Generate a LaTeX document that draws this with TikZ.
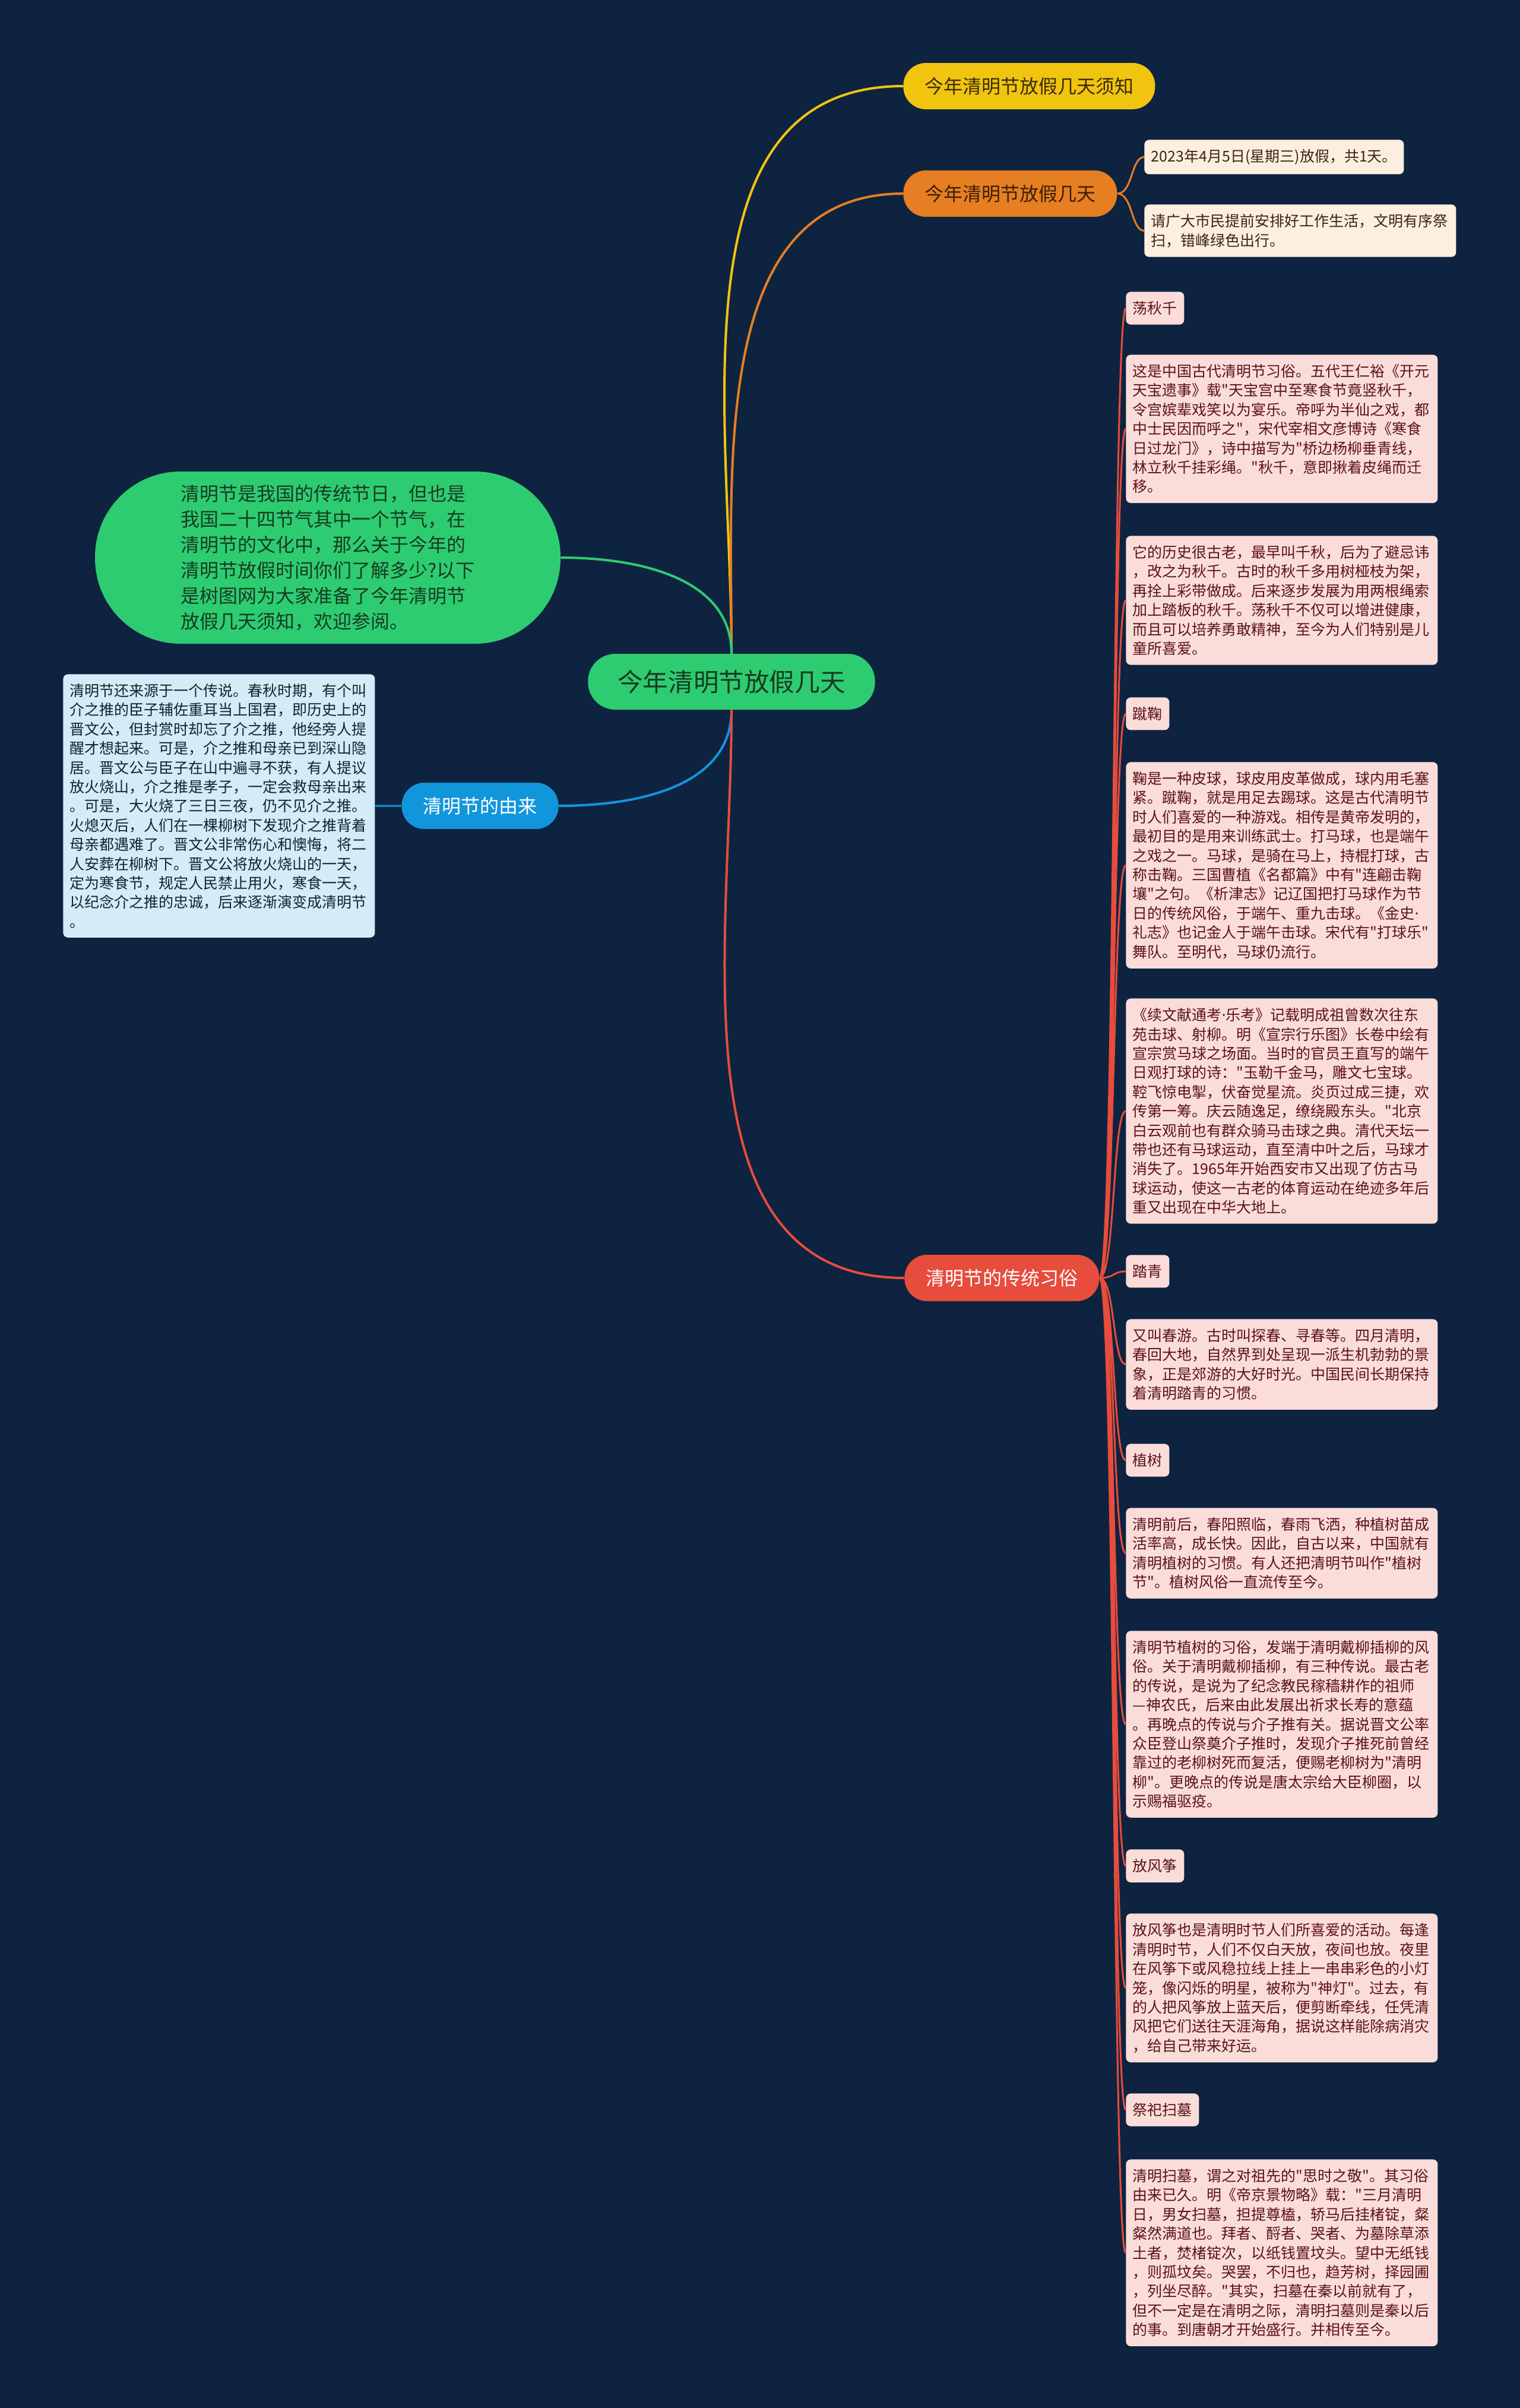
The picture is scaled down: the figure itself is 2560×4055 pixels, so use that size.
\documentclass[tikz,border=0pt]{standalone}
\usepackage{fontspec}
\newfontfamily\hanzi{Noto Sans CJK SC}
\newfontfamily\latinfont{Noto Sans}
\newcommand{\kdot}{{\latinfont ·}}
\usetikzlibrary{positioning}
\definecolor{bgnavy}{HTML}{0E2340}
\definecolor{rootgreen}{HTML}{2ECC71}
\definecolor{rootink}{HTML}{163B22}
\definecolor{sunyellow}{HTML}{F1C40F}
\definecolor{sunink}{HTML}{3A2C05}
\definecolor{amber}{HTML}{E67E22}
\definecolor{amberink}{HTML}{3D1F05}
\definecolor{cream}{HTML}{FDEFDF}
\definecolor{creamink}{HTML}{3D2412}
\definecolor{skyblue}{HTML}{1296DB}
\definecolor{icefill}{HTML}{D3ECF8}
\definecolor{iceink}{HTML}{142233}
\definecolor{brick}{HTML}{E74C3C}
\definecolor{blush}{HTML}{FADCD9}
\definecolor{blushink}{HTML}{5B1414}
\tikzset{x=0.5pt, y=0.5pt,
	root/.style={
		fill=rootgreen, text=rootink,
		rounded corners=23pt, minimum height=47pt, inner xsep=25pt,
		font=\hanzi\fontsize{21.3}{25}\selectfont
	},
	topic/.style={
		rounded corners=19pt, minimum height=39pt, inner xsep=18pt, inner ysep=0pt,
		font=\hanzi\fontsize{16}{19}\selectfont
	},
	word/.style={
		rounded corners=4pt, inner xsep=5.75pt, inner ysep=8pt,
		anchor=north west, align=left,
		font=\hanzi\fontsize{12.5}{16.2}\selectfont
	},
	para/.style={word, text width=251pt},
	custom/.style={word, fill=blush, text=blushink},
	wire/.style={line width=2pt},
	twig/.style={line width=1.5pt},
	kid/.style={out=0, in=180, out distance=13pt, in distance=11pt}
}

\begin{document}
\begin{tikzpicture}
	\fill[bgnavy] (0,0) rectangle (2560,-4055);

	\node[root] (c) at (1232,-1148) {今年清明节放假几天};

	\node[topic, fill=sunyellow, text=sunink, anchor=west] (tips) at (1521,-145) {今年清明节放假几天须知};
	\node[topic, fill=amber, text=amberink, anchor=west] (days) at (1521,-326) {今年清明节放假几天};
	\node[word, fill=cream, text=creamink] (date) at (1927,-235) {2023年4月5日(星期三)放假，共1天。};
	\node[word, fill=cream, text=creamink, text width=251pt] (advice) at (1927,-344) {
		请广大市民提前安排好工作生活，文明有序祭\\
		扫，错峰绿色出行。};

	\node[fill=rootgreen, text=rootink, rounded corners=72pt, minimum width=392pt,
		minimum height=145pt, align=left, font=\hanzi\fontsize{16}{21.5}\selectfont] (intro) at (552,-939) {
		清明节是我国的传统节日，但也是\\
		我国二十四节气其中一个节气，在\\
		清明节的文化中，那么关于今年的\\
		清明节放假时间你们了解多少?以下\\
		是树图网为大家准备了今年清明节\\
		放假几天须知，欢迎参阅。};

	\node[topic, fill=skyblue, text=white, anchor=east] (origin) at (941,-1357) {清明节的由来};
	\node[para, fill=icefill, text=iceink] (legend) at (106,-1135) {
		清明节还来源于一个传说。春秋时期，有个叫\\
		介之推的臣子辅佐重耳当上国君，即历史上的\\
		晋文公，但封赏时却忘了介之推，他经旁人提\\
		醒才想起来。可是，介之推和母亲已到深山隐\\
		居。晋文公与臣子在山中遍寻不获，有人提议\\
		放火烧山，介之推是孝子，一定会救母亲出来\\
		。可是，大火烧了三日三夜，仍不见介之推。\\
		火熄灭后，人们在一棵柳树下发现介之推背着\\
		母亲都遇难了。晋文公非常伤心和懊悔，将二\\
		人安葬在柳树下。晋文公将放火烧山的一天，\\
		定为寒食节，规定人民禁止用火，寒食一天，\\
		以纪念介之推的忠诚，后来逐渐演变成清明节\\
		。};

	\node[topic, fill=brick, text=white, anchor=west] (customs) at (1523,-2152) {清明节的传统习俗};

	\node[custom] (swing) at (1896,-491) {荡秋千};
	\node[custom, para] (swingA) at (1896,-597) {
		这是中国古代清明节习俗。五代王仁裕《开元\\
		天宝遗事》载"天宝宫中至寒食节竟竖秋千，\\
		令宫嫔辈戏笑以为宴乐。帝呼为半仙之戏，都\\
		中士民因而呼之"，宋代宰相文彦博诗《寒食\\
		日过龙门》，诗中描写为"桥边杨柳垂青线，\\
		林立秋千挂彩绳。"秋千，意即揪着皮绳而迁\\
		移。};
	\node[custom, para] (swingB) at (1896,-902) {
		它的历史很古老，最早叫千秋，后为了避忌讳\\
		，改之为秋千。古时的秋千多用树桠枝为架，\\
		再拴上彩带做成。后来逐步发展为用两根绳索\\
		加上踏板的秋千。荡秋千不仅可以增进健康，\\
		而且可以培养勇敢精神，至今为人们特别是儿\\
		童所喜爱。};
	\node[custom] (cuju) at (1896,-1174) {蹴鞠};
	\node[custom, para] (cujuA) at (1896,-1283) {
		鞠是一种皮球，球皮用皮革做成，球内用毛塞\\
		紧。蹴鞠，就是用足去踢球。这是古代清明节\\
		时人们喜爱的一种游戏。相传是黄帝发明的，\\
		最初目的是用来训练武士。打马球，也是端午\\
		之戏之一。马球，是骑在马上，持棍打球，古\\
		称击鞠。三国曹植《名都篇》中有"连翩击鞠\\
		壤"之句。《析津志》记辽国把打马球作为节\\
		日的传统风俗，于端午、重九击球。《金史\kdot\\
		礼志》也记金人于端午击球。宋代有"打球乐"\\
		舞队。至明代，马球仍流行。};
	\node[custom, para] (cujuB) at (1896,-1681) {
		《续文献通考\kdot 乐考》记载明成祖曾数次往东\\
		苑击球、射柳。明《宣宗行乐图》长卷中绘有\\
		宣宗赏马球之场面。当时的官员王直写的端午\\
		日观打球的诗："玉勒千金马，雕文七宝球。\\
		鞚飞惊电掣，伏奋觉星流。炎页过成三捷，欢\\
		传第一筹。庆云随逸足，缭绕殿东头。"北京\\
		白云观前也有群众骑马击球之典。清代天坛一\\
		带也还有马球运动，直至清中叶之后，马球才\\
		消失了。1965年开始西安市又出现了仿古马\\
		球运动，使这一古老的体育运动在绝迹多年后\\
		重又出现在中华大地上。};
	\node[custom] (outing) at (1896,-2113) {踏青};
	\node[custom, para] (outingA) at (1896,-2221) {
		又叫春游。古时叫探春、寻春等。四月清明，\\
		春回大地，自然界到处呈现一派生机勃勃的景\\
		象，正是郊游的大好时光。中国民间长期保持\\
		着清明踏青的习惯。};
	\node[custom] (tree) at (1896,-2431) {植树};
	\node[custom, para] (treeA) at (1896,-2539) {
		清明前后，春阳照临，春雨飞洒，种植树苗成\\
		活率高，成长快。因此，自古以来，中国就有\\
		清明植树的习惯。有人还把清明节叫作"植树\\
		节"。植树风俗一直流传至今。};
	\node[custom, para] (treeB) at (1896,-2746) {
		清明节植树的习俗，发端于清明戴柳插柳的风\\
		俗。关于清明戴柳插柳，有三种传说。最古老\\
		的传说，是说为了纪念教民稼穑耕作的祖师\\
		—神农氏，后来由此发展出祈求长寿的意蕴\\
		。再晚点的传说与介子推有关。据说晋文公率\\
		众臣登山祭奠介子推时，发现介子推死前曾经\\
		靠过的老柳树死而复活，便赐老柳树为"清明\\
		柳"。更晚点的传说是唐太宗给大臣柳圈，以\\
		示赐福驱疫。};
	\node[custom] (kite) at (1896,-3114) {放风筝};
	\node[custom, para] (kiteA) at (1896,-3222) {
		放风筝也是清明时节人们所喜爱的活动。每逢\\
		清明时节，人们不仅白天放，夜间也放。夜里\\
		在风筝下或风稳拉线上挂上一串串彩色的小灯\\
		笼，像闪烁的明星，被称为"神灯"。过去，有\\
		的人把风筝放上蓝天后，便剪断牵线，任凭清\\
		风把它们送往天涯海角，据说这样能除病消灾\\
		，给自己带来好运。};
	\node[custom] (tomb) at (1896,-3525) {祭祀扫墓};
	\node[custom, para] (tombA) at (1896,-3636) {
		清明扫墓，谓之对祖先的"思时之敬"。其习俗\\
		由来已久。明《帝京景物略》载："三月清明\\
		日，男女扫墓，担提尊榼，轿马后挂楮锭，粲\\
		粲然满道也。拜者、酹者、哭者、为墓除草添\\
		土者，焚楮锭次，以纸钱置坟头。望中无纸钱\\
		，则孤坟矣。哭罢，不归也，趋芳树，择园圃\\
		，列坐尽醉。"其实，扫墓在秦以前就有了，\\
		但不一定是在清明之际，清明扫墓则是秦以后\\
		的事。到唐朝才开始盛行。并相传至今。};

	\draw[wire, sunyellow] (c.north) to[out=90, in=180] (tips.west);
	\draw[wire, amber] (c.north) to[out=90, in=180] (days.west);
	\draw[wire, rootgreen] (c.north) to[out=90, in=0] (intro.east);
	\draw[wire, skyblue] (c.south) to[out=-90, in=0] (origin.east);
	\draw[wire, brick] (c.south) to[out=-90, in=180] (customs.west);
	\draw[twig, amber] (days.east) to[kid] (date.west)
		(days.east) to[kid] (advice.west);
	\draw[twig, skyblue] (origin.west) -- (legend.east);
	\draw[twig, brick] (customs.east) to[kid] (swing.west)
		(customs.east) to[kid] (swingA.west)
		(customs.east) to[kid] (swingB.west)
		(customs.east) to[kid] (cuju.west)
		(customs.east) to[kid] (cujuA.west)
		(customs.east) to[kid] (cujuB.west)
		(customs.east) to[kid] (outing.west)
		(customs.east) to[kid] (outingA.west)
		(customs.east) to[kid] (tree.west)
		(customs.east) to[kid] (treeA.west)
		(customs.east) to[kid] (treeB.west)
		(customs.east) to[kid] (kite.west)
		(customs.east) to[kid] (kiteA.west)
		(customs.east) to[kid] (tomb.west)
		(customs.east) to[kid] (tombA.west);
\end{tikzpicture}
\end{document}
